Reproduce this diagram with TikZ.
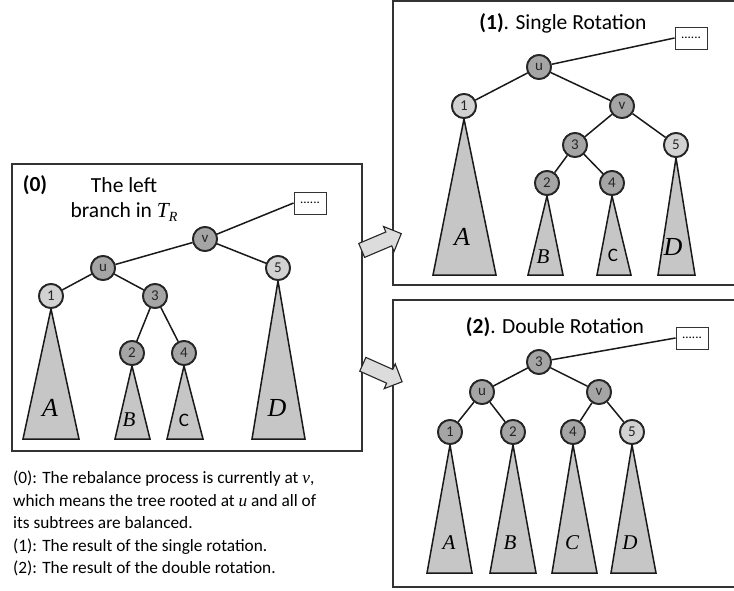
\documentclass[tikz,border=0pt]{standalone}
\usepackage{fontspec}
\setmainfont{Carlito}
\newfontfamily\cmb{Liberation Serif}
\usetikzlibrary{shapes.arrows}
\definecolor{panelc}{HTML}{333333}
\definecolor{darkn}{HTML}{A5A5A5}
\definecolor{lightn}{HTML}{D2D2D2}
\definecolor{tric}{HTML}{C6C6C6}
\definecolor{arrc}{HTML}{DCDCDC}
\tikzset{
  panel/.style={draw=panelc, line width=2pt},
  tn/.style={circle, draw=black!85, line width=1.8pt, minimum size=24pt, inner sep=0pt, text=black!85, font=\fontsize{15}{16}\selectfont},
  dk/.style={tn, fill=darkn},
  lt/.style={tn, fill=lightn},
  edge/.style={draw=black!90, line width=1.5pt},
  tri/.style={draw=black!90, line width=1.5pt, fill=tric, line join=miter},
  dotbox/.style={draw=black!80, line width=0.9pt, fill=white, minimum width=32pt, minimum height=22pt, inner sep=0pt, font=\fontsize{13}{14}\selectfont},
  blockarr/.style={single arrow, draw=black!85, line width=1.1pt, fill=arrc, inner sep=7pt, single arrow head extend=6pt, minimum height=43pt},
  ttl/.style={font=\fontsize{21.5}{26}\selectfont},
  tlab/.style={font=\fontsize{26}{28}\selectfont\cmb\itshape},
  tlabsmall/.style={font=\fontsize{21}{24}\selectfont\cmb\itshape},
}
\newcommand{\mytri}[4]{\path[tri] (#1.south) -- (#2,#4) -- (#3,#4) -- cycle;}
\begin{document}
\begin{tikzpicture}[x=1pt,y=-1pt]
\useasboundingbox (0,0) rectangle (734,590);
% panels
\draw[panel] (12,164) rectangle (362,451);
\draw[panel] (393,1) rectangle (745,285);
\draw[panel] (393,300) rectangle (745,587);

% ---------- panel 0 ----------
\node[font=\fontsize{21.5}{26}\selectfont\bfseries] (t0) at (35,185) {(0)};
\node[ttl] (t0a) at (124,185) {The left};
\node[ttl] (t0b) at (124,212) {branch in {\cmb\itshape T}\raisebox{-0.3ex}{\fontsize{14}{16}\selectfont\cmb\itshape R}};
\node[dotbox] (d0) at (310,203) {......};
\node[dk] (v0) at (205,239) {v};
\node[dk] (u0) at (103,268) {u};
\node[lt] (a0) at (51,296) {1};
\node[dk] (c0) at (155,296) {3};
\node[lt] (e0) at (278,268) {5};
\node[dk] (b0) at (132,353) {2};
\node[dk] (dd0) at (184,353) {4};
\mytri{a0}{23}{79}{439}
\mytri{b0}{115}{150}{439}
\mytri{dd0}{167}{203}{439}
\mytri{e0}{252}{305}{439}
\draw[edge] (v0) -- (d0.west);
\draw[edge] (v0) -- (u0);
\draw[edge] (v0) -- (e0);
\draw[edge] (u0) -- (a0);
\draw[edge] (u0) -- (c0);
\draw[edge] (c0) -- (b0);
\draw[edge] (c0) -- (dd0);
\node[dk] at (v0) {v};
\node[dk] at (u0) {u};
\node[lt] at (a0) {1};
\node[dk] at (c0) {3};
\node[lt] at (e0) {5};
\node[dk] at (b0) {2};
\node[dk] at (dd0) {4};
\node[tlab] (la0) at (50,408) {A};
\node[tlabsmall] (lb0) at (129,420) {B};
\node[font=\fontsize{19}{22}\selectfont] (lc0) at (184,420) {C};
\node[tlab] (ld0) at (277,408) {D};

% ---------- panel 1 ----------
\node[ttl] (t1) at (563,23) {\textbf{(1)}. Single Rotation};
\node[dotbox] (d1) at (691,38) {......};
\node[dk] (u1) at (539,67) {u};
\node[lt] (a1) at (464,106) {1};
\node[dk] (v1) at (622,106) {v};
\node[dk] (c1) at (575,145) {3};
\node[lt] (e1) at (676,145) {5};
\node[dk] (b1) at (547,183) {2};
\node[dk] (dd1) at (612,183) {4};
\mytri{a1}{433}{496}{275}
\mytri{b1}{528}{563}{275}
\mytri{dd1}{597}{631}{275}
\mytri{e1}{658}{695}{275}
\draw[edge] (u1) -- (d1.west);
\draw[edge] (u1) -- (a1);
\draw[edge] (u1) -- (v1);
\draw[edge] (v1) -- (c1);
\draw[edge] (v1) -- (e1);
\draw[edge] (c1) -- (b1);
\draw[edge] (c1) -- (dd1);
\node[dk] at (u1) {u};
\node[lt] at (a1) {1};
\node[dk] at (v1) {v};
\node[dk] at (c1) {3};
\node[lt] at (e1) {5};
\node[dk] at (b1) {2};
\node[dk] at (dd1) {4};
\node[tlab] (la1) at (462,237) {A};
\node[tlabsmall] (lb1) at (543,257) {B};
\node[font=\fontsize{19}{22}\selectfont] (lc1) at (613,255) {C};
\node[tlab] (ld1) at (673,247) {D};

% ---------- panel 2 ----------
\node[ttl] (t2) at (555,327) {\textbf{(2)}. Double Rotation};
\node[dotbox] (d2) at (692,338) {......};
\node[dk] (c2) at (539,362) {3};
\node[dk] (u2) at (482,392) {u};
\node[dk] (v2) at (599,392) {v};
\node[dk] (a2) at (450,432) {1};
\node[dk] (b2) at (513,432) {2};
\node[dk] (dd2) at (573,432) {4};
\node[lt] (e2) at (632,432) {5};
\mytri{a2}{427}{472}{573}
\mytri{b2}{490}{536}{573}
\mytri{dd2}{552}{597}{573}
\mytri{e2}{611}{656}{573}
\draw[edge] (c2) -- (d2.west);
\draw[edge] (c2) -- (u2);
\draw[edge] (c2) -- (v2);
\draw[edge] (u2) -- (a2);
\draw[edge] (u2) -- (b2);
\draw[edge] (v2) -- (dd2);
\draw[edge] (v2) -- (e2);
\node[dk] at (c2) {3};
\node[dk] at (u2) {u};
\node[dk] at (v2) {v};
\node[dk] at (a2) {1};
\node[dk] at (b2) {2};
\node[dk] at (dd2) {4};
\node[lt] at (e2) {5};
\node[tlabsmall] (la2) at (449,543) {A};
\node[tlabsmall] (lb2) at (510,543) {B};
\node[tlabsmall] (lc2) at (572,543) {C};
\node[tlabsmall] (ld2) at (630,543) {D};

% ---------- arrows ----------
\node[blockarr, rotate=23] (ar1) at (378,243.5) {};
\node[blockarr, rotate=-24] (ar2) at (379,371.5) {};

% ---------- caption ----------
\node[anchor=north west, align=left, inner sep=0pt, font=\fontsize{17.3}{22.5}\selectfont] (cap) at (13,471) {(0): The rebalance process is currently at {\cmb\itshape v},\\
which means the tree rooted at {\cmb\itshape u} and all of\\
its subtrees are balanced.\\
(1): The result of the single rotation.\\
(2): The result of the double rotation.};
\end{tikzpicture}
\end{document}
